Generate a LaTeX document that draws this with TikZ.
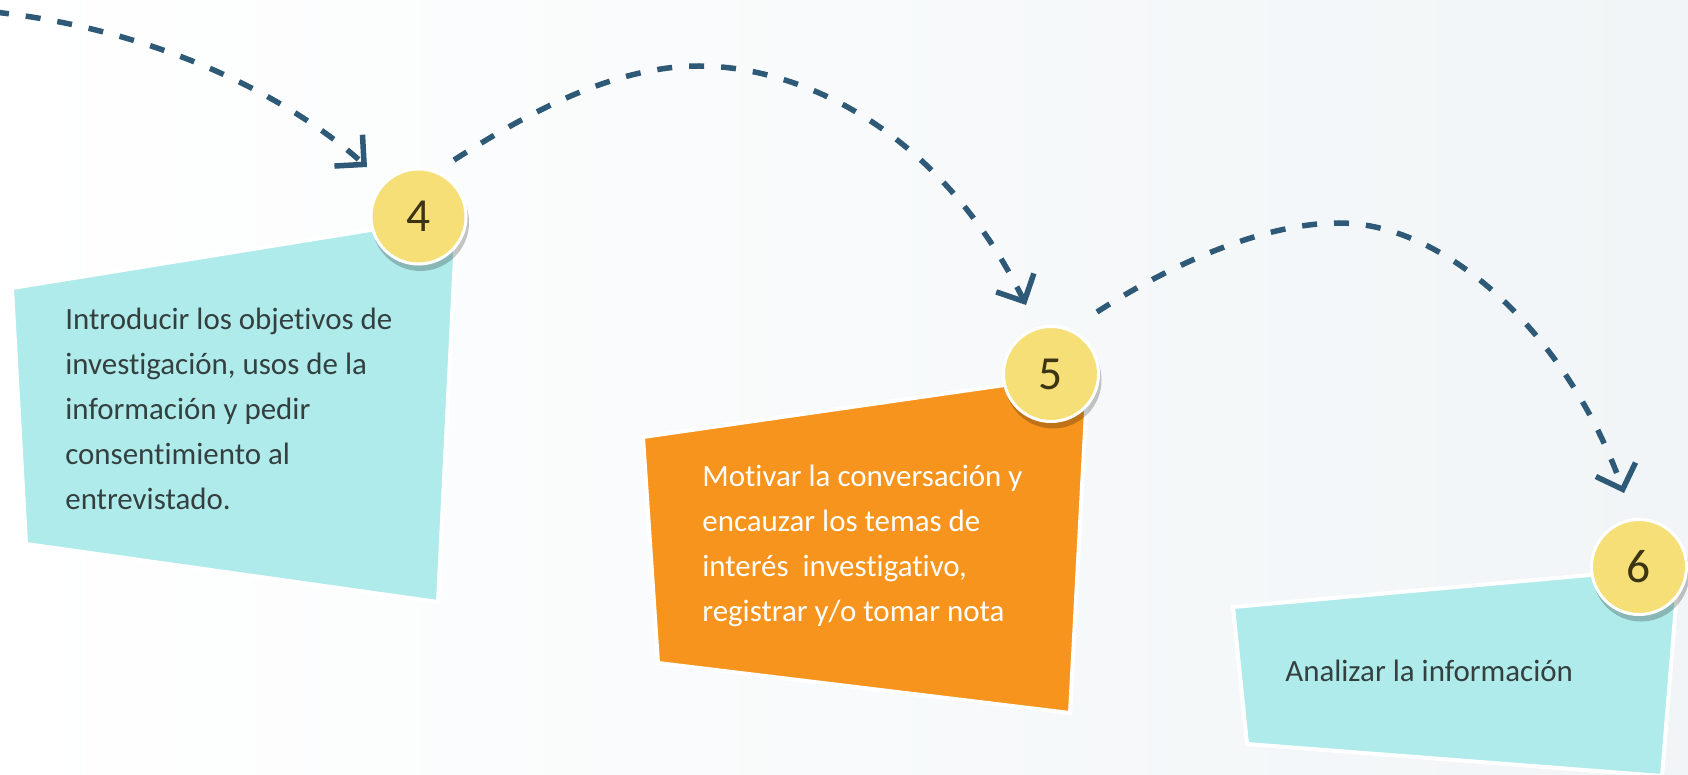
\documentclass[tikz,border=0pt]{standalone}
\usepackage{fontspec}
\setmainfont{Carlito}[Ligatures={NoCommon}]
\usetikzlibrary{arrows.meta}
\definecolor{flecha}{HTML}{2E5A78}
\definecolor{celeste}{HTML}{B0EBEB}
\definecolor{naranja}{HTML}{F7941D}
\definecolor{amarillo}{HTML}{F5DF76}
\definecolor{gris}{HTML}{34403F}
\definecolor{cifra}{HTML}{3C3413}
\definecolor{fondo}{HTML}{F1F5F7}
\tikzset{
  caja/.style={draw=white,line width=0.8mm},
  paso/.style={circle,fill=amarillo,draw=white,line width=0.6mm,minimum size=19mm,inner sep=0pt,text=cifra,font=\fontsize{27}{27}\selectfont},
  sombra/.style={circle,fill=black,opacity=0.22,minimum size=19.4mm,inner sep=0pt},
  nota/.style={anchor=base west,align=left,inner sep=0pt,font=\fontsize{17.6}{25.6}\selectfont},
  salto/.style={draw=flecha,line width=1.1mm,dash pattern=on 3mm off 3.4mm,-{Straight Barb[length=4.2mm,width=8.4mm]}}
}
\begin{document}
\begin{tikzpicture}[x=0.2mm,y=-0.2mm]
\useasboundingbox (0,0) rectangle (1688,775);
\shade[left color=white,right color=fondo] (0,0) rectangle (1688,775);

\filldraw[caja,fill=celeste] (12,288) -- (457,216) -- (438,602) -- (26,544) -- cycle;
\filldraw[caja,fill=naranja] (643,437) -- (1088,373) -- (1070,713) -- (658,663) -- cycle;
\filldraw[caja,fill=celeste] (1233,607) -- (1679,567) -- (1662,776) -- (1247,744) -- cycle;

\foreach \n/\x/\y in {4/418.5/216.5, 5/1051/374, 6/1639/567}{
    \node[sombra] at (\x+2,\y+6) {};
    \node[paso] (n\n) at (\x,\y) {\n};
}

\node[nota,text=gris] (t4) at (65,509) {Introducir los objetivos de\\investigación, usos de la\\información y pedir\\consentimiento al\\entrevistado.};
\node[nota,text=white] (t5) at (702,621) {Motivar la conversación y\\encauzar los temas de\\interés\ \ investigativo,\\registrar y/o tomar nota};
\node[nota,text=gris] (t6) at (1285,681) {Analizar la información};

\coordinate (ini) at (-6,12);
\coordinate (a4) at (367,167);
\coordinate (s4) at (454,160);
\coordinate (a5) at (1026,305);
\coordinate (s5) at (1097,312);
\coordinate (a6) at (1624,493);

\draw[salto] (ini) .. controls (160,30) and (290,98) .. (a4);
\draw[salto] (s4) .. controls (520,118) and (610,66) .. (699,66) .. controls (800,66) and (940,130) .. (a5);
\draw[salto] (s5) .. controls (1165,268) and (1260,223) .. (1339,223) .. controls (1450,223) and (1570,340) .. (a6);
\end{tikzpicture}
\end{document}
